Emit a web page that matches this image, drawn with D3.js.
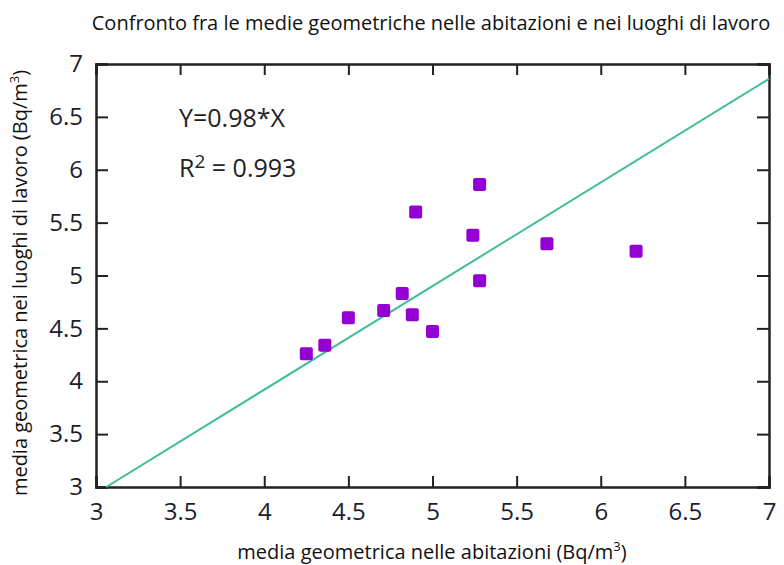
<!DOCTYPE html>
<html>
<head>
<meta charset="utf-8">
<style>
  body { margin: 0; background: #fff; }
  text { font-family: "Open Sans", sans-serif; }
</style>
</head>
<body>
<script src="https://cdn.jsdelivr.net/npm/d3@7"></script>
<script>
// data
var homeMeans = [4.25, 4.36, 4.50, 4.71, 4.82, 4.88, 5.00, 4.90, 5.24, 5.28, 5.28, 5.68, 6.21];
var workMeans = [4.26, 4.34, 4.60, 4.67, 4.83, 4.63, 4.47, 5.60, 5.38, 5.86, 4.95, 5.30, 5.23];
var tickValues = [3, 3.5, 4, 4.5, 5, 5.5, 6, 6.5, 7];
var slope = 0.98;

var W = 784, H = 565;
var margin = {left: 96, right: 15, top: 64, bottom: 78};
var width = W - margin.left - margin.right,
    height = H - margin.top - margin.bottom;

var svg = d3.select("body").append("svg").attr("width", W).attr("height", H);
var g = svg.append("g").attr("transform", "translate(" + margin.left + "," + margin.top + ")");

var x = d3.scaleLinear().domain([3, 7]).range([0, width]);
var y = d3.scaleLinear().domain([3, 7]).range([height, 0]);

var axisColor = "#222";
var fmt = function(d) { return d3.format("")(d); };

// axes (inward ticks, mirrored on top and right)
var xb = g.append("g").attr("transform", "translate(0," + height + ")")
  .call(d3.axisBottom(x).tickValues(tickValues).tickSize(-11).tickPadding(16).tickFormat(fmt));
var xt = g.append("g")
  .call(d3.axisTop(x).tickValues(tickValues).tickSize(-11).tickFormat(""));
var yl = g.append("g")
  .call(d3.axisLeft(y).tickValues(tickValues).tickSize(-12).tickPadding(13).tickFormat(fmt));
var yr = g.append("g").attr("transform", "translate(" + width + ",0)")
  .call(d3.axisRight(y).tickValues(tickValues).tickSize(-12).tickFormat(""));

[xb, xt, yl, yr].forEach(function(a) {
  a.select(".domain").attr("stroke", axisColor).attr("stroke-width", 2.5);
  a.selectAll(".tick line").attr("stroke", axisColor).attr("stroke-width", 2);
  a.selectAll(".tick text").attr("fill", "#1c1c30").style("font-size", "24px");
});
xb.selectAll(".tick text").attr("dy", "0.71em");

// regression line Y = 0.98*X clipped to the frame
var x0 = 3 / slope;
var lineData = [[x0, slope * x0], [7, slope * 7]];
g.append("path")
  .datum(lineData)
  .attr("fill", "none")
  .attr("stroke", "#3dbd98")
  .attr("stroke-width", 2)
  .attr("d", d3.line().x(function(d) { return x(d[0]); }).y(function(d) { return y(d[1]); }));

// points
var s = 13;
g.selectAll("rect.pt")
  .data(homeMeans)
  .enter().append("rect")
  .attr("class", "pt")
  .attr("x", function(d) { return x(d) - s / 2; })
  .attr("y", function(d, i) { return y(workMeans[i]) - s / 2; })
  .attr("width", s).attr("height", s)
  .attr("rx", 2)
  .attr("fill", "#9400d3");

// annotations
g.append("text").attr("x", 83).attr("y", 63)
  .style("font-size", "25px").attr("fill", "#222")
  .text("Y=0.98*X");
var r2 = g.append("text").attr("x", 83).attr("y", 113)
  .style("font-size", "25px").attr("fill", "#222");
r2.append("tspan").text("R");
r2.append("tspan").attr("dy", -9).style("font-size", "19px").text("2");
r2.append("tspan").attr("dy", 9).text(" = 0.993");

// title
svg.append("text").attr("x", 431).attr("y", 30)
  .attr("text-anchor", "middle").style("font-size", "20px").attr("fill", "#111")
  .text("Confronto fra le medie geometriche nelle abitazioni e nei luoghi di lavoro");

// x label
var xl = svg.append("text").attr("x", 432).attr("y", 559)
  .attr("text-anchor", "middle").style("font-size", "20px").attr("fill", "#111");
xl.append("tspan").text("media geometrica nelle abitazioni (Bq/m");
xl.append("tspan").attr("dy", -8).style("font-size", "13px").text("3");
xl.append("tspan").attr("dy", 8).text(")");

// y label
var ylab = svg.append("text")
  .attr("transform", "translate(27,283) rotate(-90)")
  .attr("text-anchor", "middle").style("font-size", "20px").attr("fill", "#111");
ylab.append("tspan").text("media geometrica nei luoghi di lavoro (Bq/m");
ylab.append("tspan").attr("dy", -8).style("font-size", "13px").text("3");
ylab.append("tspan").attr("dy", 8).text(")");
</script>
</body>
</html>
